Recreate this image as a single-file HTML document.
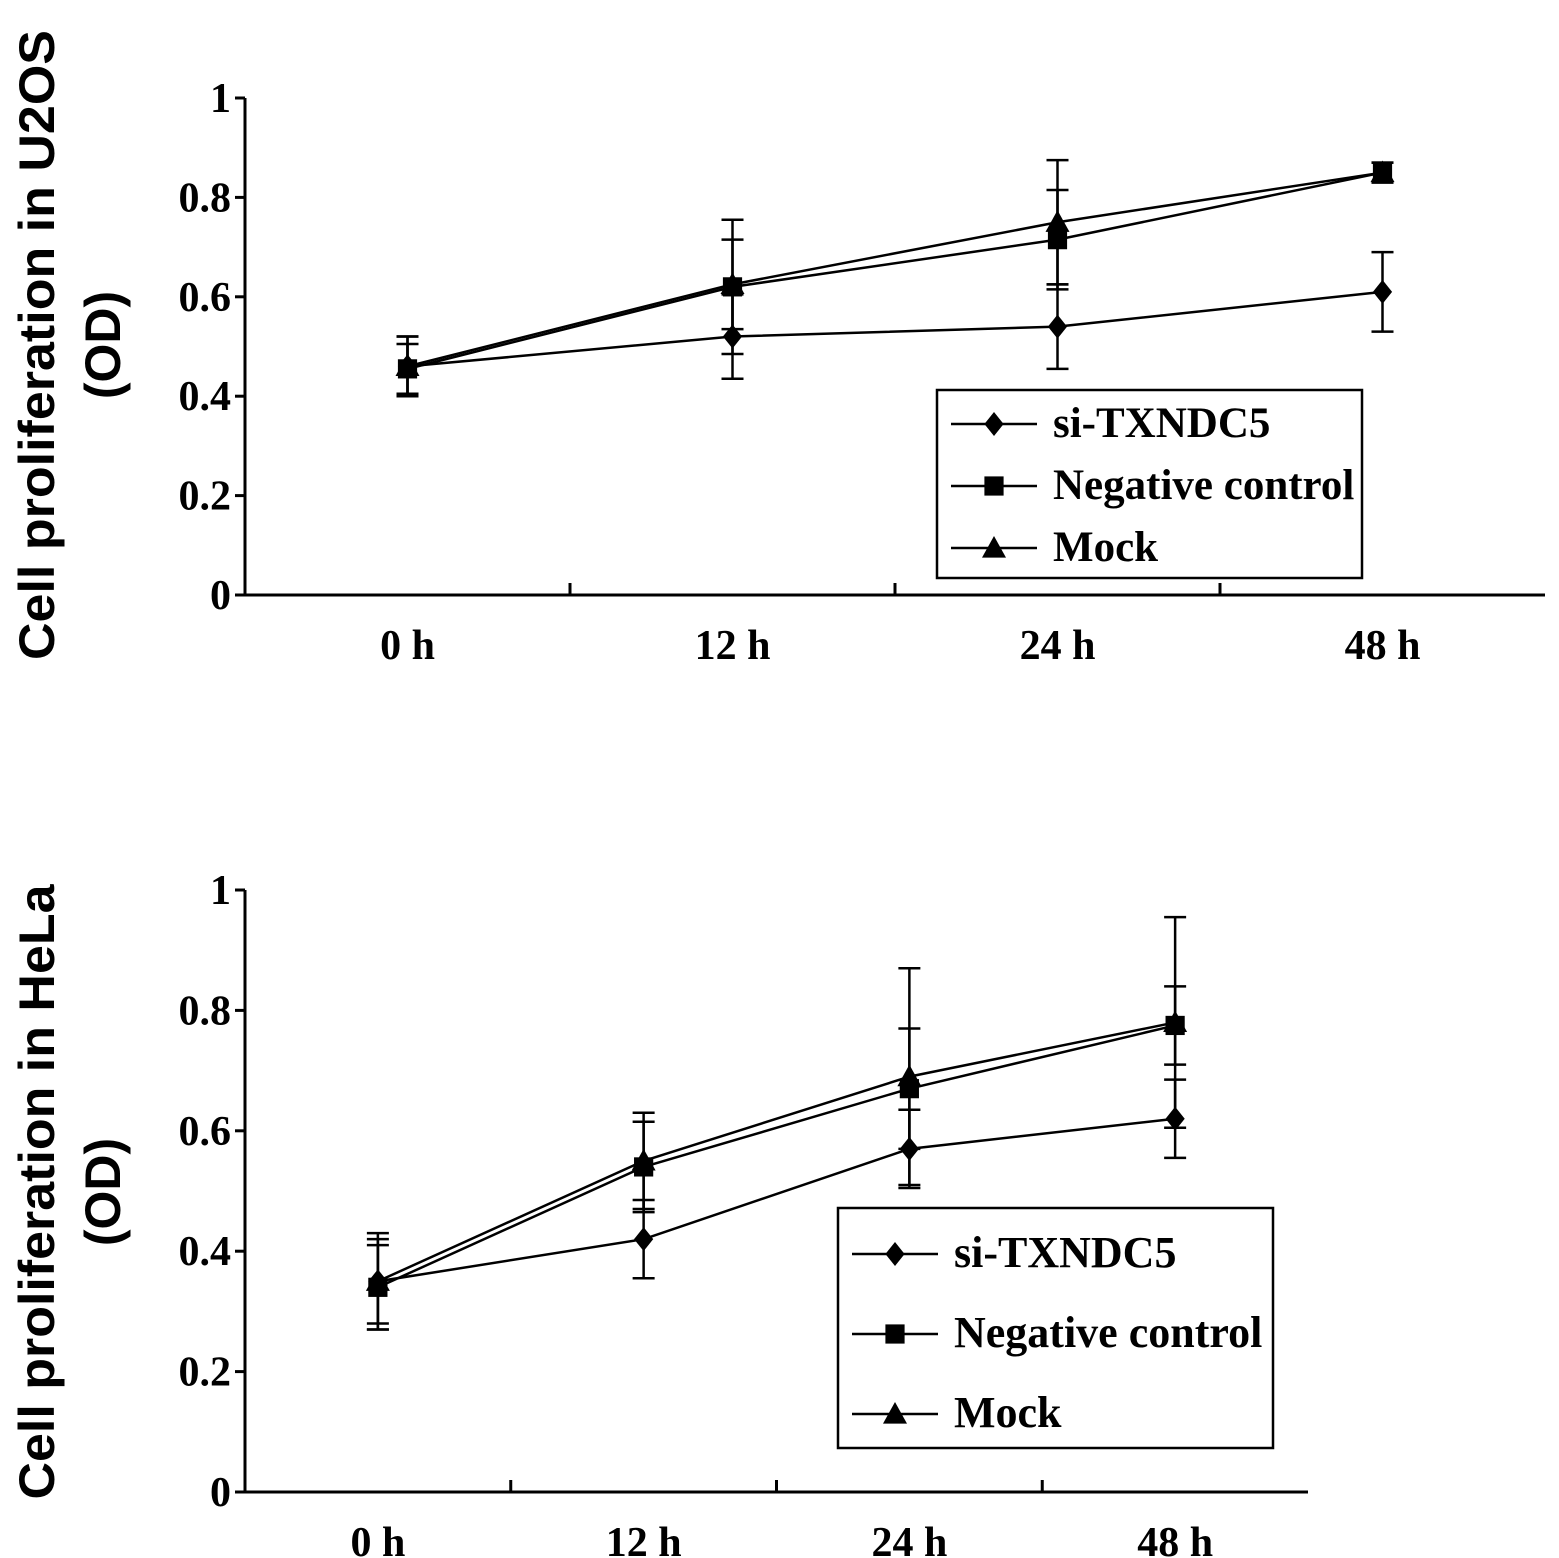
<!DOCTYPE html>
<html><head><meta charset="utf-8"><style>
html,body{margin:0;padding:0;background:#fff}
svg{display:block}
.t{font-family:"Liberation Serif",serif;font-weight:bold;font-size:42px;fill:#000}
.yt{font-family:"Liberation Sans",sans-serif;font-weight:bold;font-size:50px;fill:#000}
.lg{font-family:"Liberation Serif",serif;font-weight:bold;fill:#000}
</style></head><body>
<svg id="svg" width="1559" height="1558" xmlns="http://www.w3.org/2000/svg"></svg>
<script>
const categories=["0 h","12 h","24 h","48 h"];
const yTicks=[0,0.2,0.4,0.6,0.8,1];
const yTickLabels=["0","0.2","0.4","0.6","0.8","1"];
const seriesNames=["si-TXNDC5","Negative control","Mock"];
const u2osSi=[0.46,0.52,0.54,0.61];
const u2osSiErr=[0.06,0.085,0.085,0.08];
const u2osNC=[0.455,0.62,0.715,0.85];
const u2osNCErr=[0.05,0.135,0.1,0.02];
const u2osMock=[0.46,0.625,0.75,0.85];
const u2osMockErr=[0.06,0.09,0.125,0.02];
const helaSi=[0.35,0.42,0.57,0.62];
const helaSiErr=[0.07,0.065,0.065,0.065];
const helaNC=[0.34,0.54,0.67,0.775];
const helaNCErr=[0.07,0.075,0.1,0.065];
const helaMock=[0.35,0.55,0.69,0.78];
const helaMockErr=[0.08,0.08,0.18,0.175];

const NS="http://www.w3.org/2000/svg";
const svg=document.getElementById('svg');
function mk(tag,attrs,parent){const e=document.createElementNS(NS,tag);for(const k in attrs)e.setAttribute(k,attrs[k]);(parent||svg).appendChild(e);return e;}
function marker(g,type,x,y,s){
  if(type===0) return mk('polygon',{points:`${x},${y-s} ${x+s*0.8},${y} ${x},${y+s} ${x-s*0.8},${y}`,fill:'#000'},g);
  if(type===1) return mk('rect',{x:x-s*0.8,y:y-s*0.8,width:s*1.6,height:s*1.6,fill:'#000'},g);
  return mk('polygon',{points:`${x},${y-s} ${x+s},${y+s*0.8} ${x-s},${y+s*0.8}`,fill:'#000'},g);
}
function chart(cfg){
  const g=mk('g',{});
  
  
  const X=i=>cfg.x0+(cfg.x1-cfg.x0)*(i+0.5)/categories.length;
  const Y=v=>cfg.y0-(cfg.y0-cfg.y1)*v;
  mk('line',{x1:cfg.x0,y1:cfg.y0,x2:cfg.x1,y2:cfg.y0,stroke:'#000','stroke-width':3},g);
  mk('line',{x1:cfg.x0,y1:cfg.y0,x2:cfg.x0,y2:Y(1),stroke:'#000','stroke-width':3},g);
  yTicks.forEach((v,i)=>{
    mk('line',{x1:cfg.x0-10,y1:Y(v),x2:cfg.x0,y2:Y(v),stroke:'#000','stroke-width':3},g);
    const t=mk('text',{x:cfg.x0-14,y:Y(v)+14,class:'t','text-anchor':'end'},g);t.textContent=yTickLabels[i];
    
    
  });
  for(let i=1;i<categories.length;i++){
    const x=cfg.x0+(cfg.x1-cfg.x0)*i/categories.length;
    mk('line',{x1:x,y1:cfg.y0,x2:x,y2:cfg.y0-12,stroke:'#000','stroke-width':3},g);
  }
  categories.forEach((c,i)=>{
    const t=mk('text',{x:X(i),y:cfg.y0+64,class:'t','text-anchor':'middle'},g);t.textContent=c;
    
    
  });
  const yt=mk('text',{x:0,y:0,class:'yt','text-anchor':'middle',transform:`translate(${cfg.titleX},${cfg.titleY}) rotate(-90)`},g);
  const ts1=mk('tspan',{x:0,dy:0,textLength:cfg.titleLen,lengthAdjust:'spacingAndGlyphs'},yt);ts1.textContent=cfg.title;
  const ts2=mk('tspan',{x:0,dy:66},yt);ts2.textContent="(OD)";
  
  
  cfg.series.forEach((s,si)=>{
    const sg=mk('g',{},g);
    
    
    mk('polyline',{points:s.v.map((v,i)=>X(i)+','+Y(v)).join(' '),fill:'none',stroke:'#000','stroke-width':2.5},sg);
    s.v.forEach((v,i)=>{
      const x=X(i);
      const e=mk('path',{d:`M${x},${Y(v+s.e[i])}V${Y(v-s.e[i])}M${x-11},${Y(v+s.e[i])}H${x+11}M${x-11},${Y(v-s.e[i])}H${x+11}`,stroke:'#000','stroke-width':2.5,fill:'none'},sg);
      
      const m=marker(sg,si,x,Y(v),12);
      
      
    });
  });
  const L=cfg.legend;
  const lg=mk('g',{},g);
  
  
  mk('rect',{x:L.x,y:L.y,width:L.w,height:L.h,fill:'#fff',stroke:'#000','stroke-width':2.5},lg);
  seriesNames.forEach((n,i)=>{
    const yy=L.y+L.first+i*L.gap;
    mk('line',{x1:L.x+14,y1:yy,x2:L.x+100,y2:yy,stroke:'#000','stroke-width':2.5},lg);
    marker(lg,i,L.x+57,yy,12);
    const t=mk('text',{x:L.x+116,y:yy+13,class:'lg','font-size':L.fs},lg);t.textContent=n;
    
    
  });
}
chart({name:'u2os-chart',x0:245,x1:1545,y0:595,y1:98,titleX:54,titleY:345,titleLen:630,title:"Cell proliferation in U2OS",
  series:[{v:u2osSi,e:u2osSiErr},{v:u2osNC,e:u2osNCErr},{v:u2osMock,e:u2osMockErr}],
  legend:{x:937,y:390,w:425,h:188,first:34,gap:62,fs:43}});
chart({name:'hela-chart',x0:245,x1:1308,y0:1492,y1:890,titleX:54,titleY:1192,titleLen:615,title:"Cell proliferation in HeLa",
  series:[{v:helaSi,e:helaSiErr},{v:helaNC,e:helaNCErr},{v:helaMock,e:helaMockErr}],
  legend:{x:838,y:1208,w:435,h:240,first:46,gap:80,fs:44}});
</script>
</body></html>
